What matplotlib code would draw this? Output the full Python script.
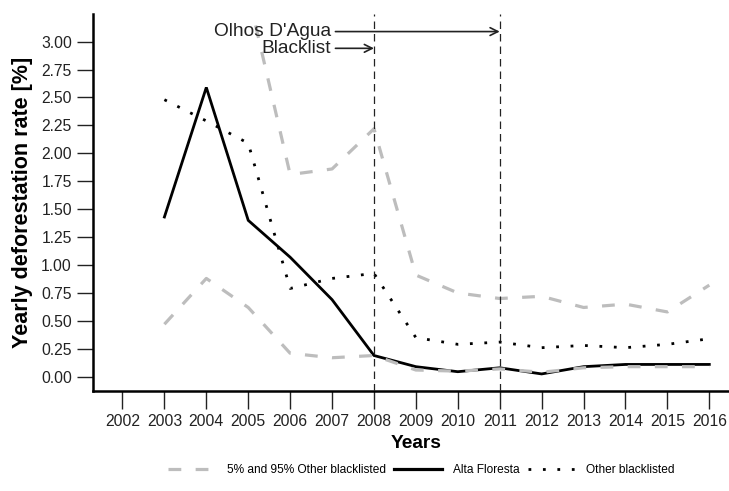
import matplotlib
matplotlib.use("Agg")
import matplotlib.pyplot as plt
from matplotlib.lines import Line2D

plt.rcParams['font.family'] = ['Liberation Sans', 'DejaVu Sans']

years = [2003, 2004, 2005, 2006, 2007, 2008, 2009, 2010, 2011, 2012, 2013, 2014, 2015, 2016]
tick_years = list(range(2002, 2017))

alta_floresta = [1.43, 2.59, 1.40, 1.07, 0.69, 0.19, 0.09, 0.045, 0.08, 0.025, 0.09, 0.11, 0.11, 0.11]
other_blacklisted = [2.48, 2.29, 2.09, 0.79, 0.88, 0.925, 0.35, 0.29, 0.31, 0.26, 0.28, 0.26, 0.29, 0.34]
lower_5 = [0.47, 0.88, 0.62, 0.21, 0.17, 0.19, 0.06, 0.05, 0.07, 0.04, 0.08, 0.09, 0.09, 0.09]
# 2003-2004 of the 95% band run off the top of the chart; rough guesses
upper_95 = [4.5, 5.5, 3.43, 1.81, 1.86, 2.22, 0.91, 0.75, 0.70, 0.72, 0.62, 0.65, 0.58, 0.82]

events = [2008, 2011]
event_labels = ["Blacklist", "Olhos D'Agua"]
event_y = [2.94, 3.09]

yticks = [0.0, 0.25, 0.5, 0.75, 1.0, 1.25, 1.5, 1.75, 2.0, 2.25, 2.5, 2.75, 3.0]

fig = plt.figure(figsize=(7.29, 4.91), dpi=100)
ax = fig.add_axes([0.1272, 0.2043, 0.8728, 0.7678])

gray = "#bdbdbd"
ax.plot(years, alta_floresta, color="black", lw=2.0, solid_joinstyle="miter", zorder=2)
ax.plot(years, other_blacklisted, color="black", lw=2.0, linestyle=(0, (1, 4.2)),
        dash_capstyle="butt", zorder=2)
ax.plot(years, lower_5, color=gray, lw=2.3, linestyle=(0, (4, 4.5)), zorder=3)
ax.plot(years, upper_95, color=gray, lw=2.3, linestyle=(0, (4, 4.5)), zorder=3)

for yr in events:
    ax.axvline(yr, color="#222222", lw=0.9, linestyle=(0, (6, 4)), zorder=4)

for yr, lab, yv in zip(events, event_labels, event_y):
    ax.annotate("", xy=(yr, yv), xytext=(2007.08, yv),
                arrowprops=dict(arrowstyle="->", color="#222222", lw=1.2,
                                mutation_scale=14, shrinkA=0, shrinkB=0))
    ax.text(2006.98, yv, lab, ha="right", va="center", fontsize=13.8, color="#222222")

ax.set_xlim(2001.29, 2016.47)
ax.set_ylim(-0.125, 3.25)
ax.set_xticks(tick_years)
ax.set_xticklabels([str(y) for y in tick_years])
ax.set_yticks(yticks)
ax.set_yticklabels(["%.2f" % v for v in yticks])

for side in ["top", "right"]:
    ax.spines[side].set_visible(False)
ax.spines["left"].set_linewidth(1.8)
ax.spines["bottom"].set_linewidth(1.8)

ax.tick_params(axis="y", length=11.5, width=1.0, pad=3.5, labelsize=11.3,
               colors="#222222", direction="out")
ax.tick_params(axis="x", length=13, width=1.0, pad=3.5, labelsize=11.3,
               colors="#222222", direction="out")
for t in ax.xaxis.get_ticklines():
    t.set_color("#555555")

ax.set_ylabel("Yearly deforestation rate [%]", fontsize=15.5, fontweight="bold")
ax.yaxis.set_label_coords(-0.111, 0.5)
ax.yaxis.label.set_va("center")
ax.set_xlabel("Years", fontsize=13.8, fontweight="bold")
ax.xaxis.set_label_coords(0.508, -0.139)
ax.xaxis.label.set_va("center")

handles = [
    Line2D([], [], color=gray, lw=2.3, linestyle=(0, (4, 4.5))),
    Line2D([], [], color="black", lw=2.3),
    Line2D([], [], color="black", lw=2.0, linestyle=(0, (1, 4.2))),
]
labels = ["5% and 95% Other blacklisted", "Alta Floresta", "Other blacklisted"]
fig.legend(handles, labels, loc="center", bbox_to_anchor=(0.578, 0.043), ncol=3,
           frameon=False, fontsize=8.6, handlelength=4.0, handletextpad=0.9,
           columnspacing=0.7)

fig.savefig("out.png", dpi=100)
